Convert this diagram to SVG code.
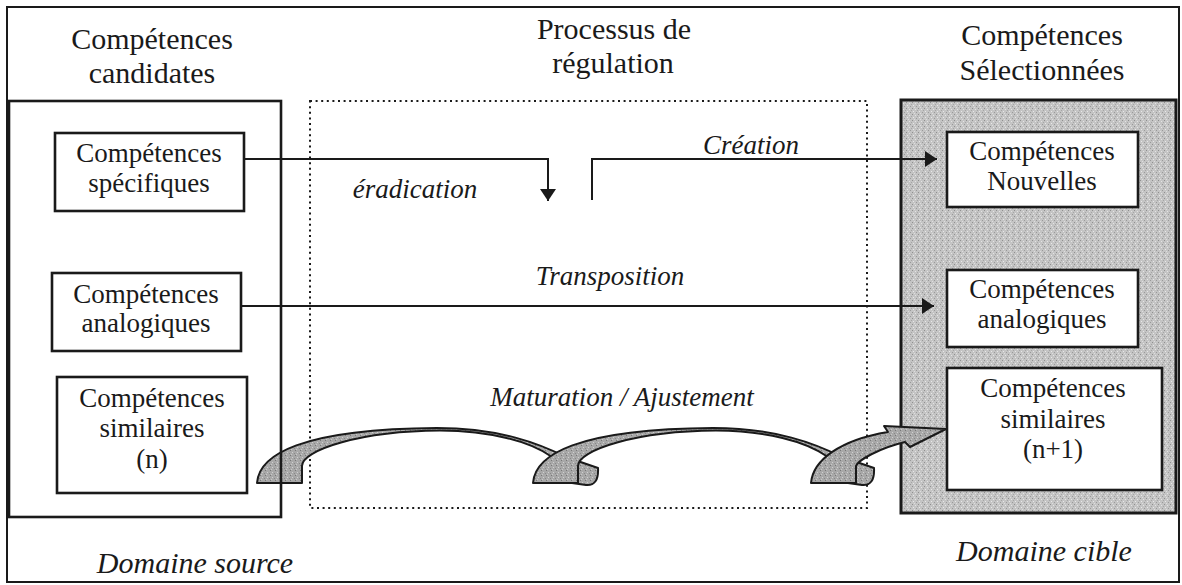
<svg xmlns="http://www.w3.org/2000/svg" width="1182" height="585" viewBox="0 0 1182 585">
<style>
  .frame{fill:none;stroke:#1a1a1a;stroke-width:2}
  .box{fill:#fff;stroke:#1a1a1a;stroke-width:2.6}
  .t{font-family:"Liberation Serif","Times New Roman",serif;fill:#1a1a1a;text-anchor:middle}
  .h{font-size:30px}
  .n{font-size:27px}
  .i{font-size:27px;font-style:italic}
  .b{font-size:30px;font-style:italic}
  .ln{fill:none;stroke:#1a1a1a;stroke-width:2}
  .arc{fill:url(#stip2);stroke:#1a1a1a;stroke-width:2;stroke-linejoin:round}
</style>
<defs>
  <pattern id="stip" width="6" height="6" patternUnits="userSpaceOnUse">
    <rect width="6" height="6" fill="#c4c4c4"/>
    <rect x="0" y="0" width="1" height="1" fill="#8f8f8f"/>
    <rect x="3" y="1" width="1" height="1" fill="#e4e4e4"/>
    <rect x="1" y="3" width="1" height="1" fill="#e8e8e8"/>
    <rect x="4" y="4" width="1" height="1" fill="#999"/>
    <rect x="5" y="2" width="1" height="1" fill="#a5a5a5"/>
    <rect x="2" y="5" width="1" height="1" fill="#dedede"/>
  </pattern>
  <pattern id="stip2" width="5" height="5" patternUnits="userSpaceOnUse">
    <rect width="5" height="5" fill="#a8a8a8"/>
    <rect x="0" y="0" width="1" height="1" fill="#777"/>
    <rect x="2" y="2" width="1" height="1" fill="#d0d0d0"/>
    <rect x="4" y="3" width="1" height="1" fill="#888"/>
    <rect x="1" y="4" width="1" height="1" fill="#c8c8c8"/>
  </pattern>
  <marker id="ah" markerWidth="12" markerHeight="16" refX="12" refY="8" orient="auto" markerUnits="userSpaceOnUse">
    <path d="M0,0 L12,8 L0,16 Z" fill="#1a1a1a"/>
  </marker>
</defs>

<rect x="0" y="0" width="1182" height="585" fill="#fff"/>

<g id="frame">
  <rect class="frame" x="7" y="7" width="1172" height="575"/>
</g>

<g id="domaine-cible">
  <rect x="901" y="100" width="275" height="413" fill="url(#stip)" stroke="#1a1a1a" stroke-width="3"/>
  <text class="t b" x="1044" y="561">Domaine cible</text>
</g>

<g id="processus">
  <rect x="310" y="101" width="557" height="407" fill="none" stroke="#1a1a1a" stroke-width="2" stroke-dasharray="2 3.6"/>
</g>

<g id="headers">
  <text class="t h" x="152" y="49">Compétences</text>
  <text class="t h" x="152" y="83">candidates</text>
  <text class="t h" x="614" y="39">Processus de</text>
  <text class="t h" x="613" y="73">régulation</text>
  <text class="t h" x="1042" y="45">Compétences</text>
  <text class="t h" x="1042" y="80">Sélectionnées</text>
</g>

<g id="connectors">
  <polyline class="ln" points="240,159 548,159 548,201" marker-end="url(#ah)"/>
  <polyline class="ln" points="592,200 592,159 937,159" marker-end="url(#ah)"/>
  <line class="ln" x1="241" y1="306" x2="934" y2="306" marker-end="url(#ah)"/>
  <path id="arc1" class="arc" d="M257,483 C259,455 300,429 437,428 C500,428 540,444 566,457 L598,468 Q599,486 586,485 L565,482 L548,462 L552,457 C530,441 490,431 440,430.5 C360,431 302,450 302,466 L302,483 Z"/>
  <path id="arc2" class="arc" transform="translate(276,0)" d="M257,483 C259,455 300,429 437,428 C500,428 540,444 566,457 L598,468 Q599,486 586,485 L565,482 L548,462 L552,457 C530,441 490,431 440,430.5 C360,431 302,450 302,466 L302,483 Z"/>
  <path id="arc3" class="arc" d="M811,483 C813,460 840,440 888,432 L884,426 L946,429 L910,447 L905,442 C880,448 858,460 856,466 L856,483 Z"/>
  <text class="t i" x="415" y="198">éradication</text>
  <text class="t i" x="751" y="154">Création</text>
  <text class="t i" x="610" y="285">Transposition</text>
  <text class="t i" x="622" y="406">Maturation / Ajustement</text>
</g>

<g id="domaine-source">
  <rect x="9" y="101" width="272" height="416" fill="none" stroke="#1a1a1a" stroke-width="2.6"/>
  <text class="t b" x="195" y="573">Domaine source</text>
</g>

<g id="cs-specifiques">
  <rect class="box" x="55" y="133" width="189" height="78"/>
  <text class="t n" x="149" y="162">Compétences</text>
  <text class="t n" x="149" y="192">spécifiques</text>
</g>
<g id="cs-analogiques">
  <rect class="box" x="52" y="273" width="189" height="78"/>
  <text class="t n" x="146" y="303">Compétences</text>
  <text class="t n" x="146" y="332">analogiques</text>
</g>
<g id="cs-similaires">
  <rect class="box" x="57" y="377" width="190" height="116"/>
  <text class="t n" x="152" y="407">Compétences</text>
  <text class="t n" x="152" y="437">similaires</text>
  <text class="t n" x="152" y="468">(n)</text>
</g>

<g id="cn-nouvelles">
  <rect class="box" x="947" y="132" width="191" height="75"/>
  <text class="t n" x="1042" y="160">Compétences</text>
  <text class="t n" x="1042" y="190">Nouvelles</text>
</g>
<g id="cn-analogiques">
  <rect class="box" x="947" y="270" width="191" height="77"/>
  <text class="t n" x="1042" y="298">Compétences</text>
  <text class="t n" x="1042" y="328">analogiques</text>
</g>
<g id="cn-similaires">
  <rect class="box" x="947" y="368" width="215" height="122"/>
  <text class="t n" x="1053" y="397">Compétences</text>
  <text class="t n" x="1053" y="428">similaires</text>
  <text class="t n" x="1053" y="458">(n+1)</text>
</g>
</svg>
